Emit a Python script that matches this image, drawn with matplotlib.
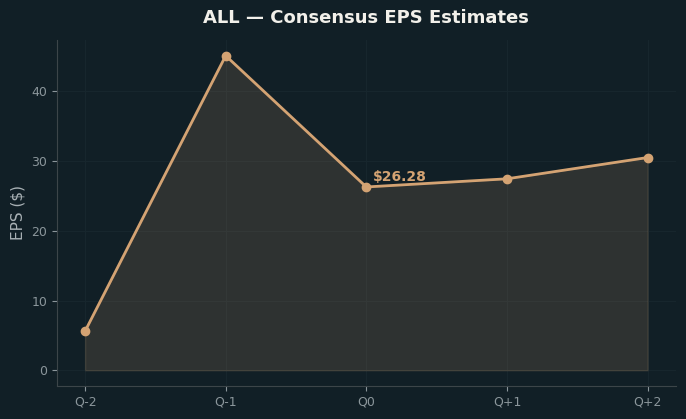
import matplotlib
matplotlib.use("Agg")
import matplotlib.pyplot as plt

quarters = ["Q-2", "Q-1", "Q0", "Q+1", "Q+2"]
eps = [5.6, 45.1, 26.28, 27.45, 30.5]
current_label = "$26.28"

bg = "#111f26"
line_c = "#d4a373"
tick_c = "#8b969b"

fig = plt.figure(figsize=(6.86, 4.19), dpi=100, facecolor=bg)
ax = fig.add_axes([0.083, 0.0788, 0.902, 0.8258])
ax.set_facecolor(bg)
x = list(range(len(quarters)))
ax.fill_between(x, eps, 0, color=line_c, alpha=0.15, linewidth=1)
ax.plot(x, eps, color=line_c, linewidth=2, marker="o", markersize=6)
ax.annotate(current_label, (2, eps[2]), xytext=(5, 4), textcoords="offset points",
            color=line_c, fontsize=10, fontweight="bold")
ax.set_xticks(x)
ax.set_xticklabels(quarters)
ax.set_ylabel("EPS ($)", color="#a9b1b5", fontsize=11)
ax.set_title("ALL — Consensus EPS Estimates", color="#f2f0ea", fontsize=13,
             fontweight="bold", pad=12)
ax.tick_params(colors=tick_c, labelsize=9)
for s in ["top", "right"]:
    ax.spines[s].set_visible(False)
for s in ["left", "bottom"]:
    ax.spines[s].set_color("#3c4549")
ax.grid(True, color="#17262d", linewidth=0.8)
ax.set_axisbelow(True)
fig.savefig("out.png", dpi=100, facecolor=bg)
